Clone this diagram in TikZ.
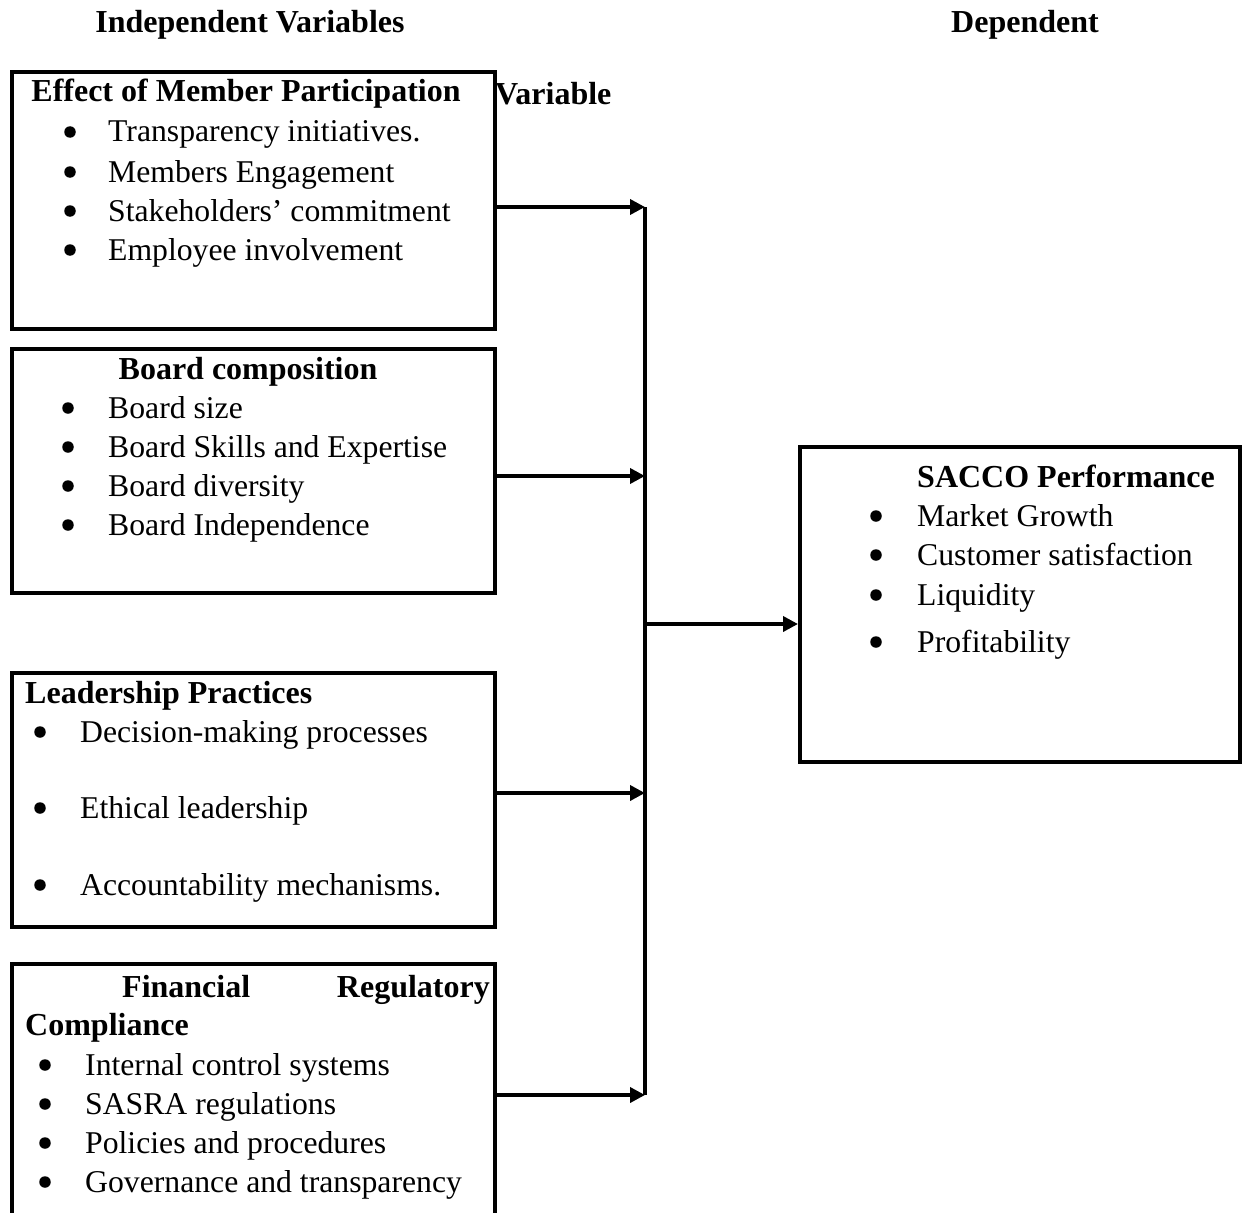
\documentclass[tikz,border=0pt]{standalone}
\usepackage{fontspec}
\setmainfont{Liberation Serif}
\usetikzlibrary{arrows.meta}
\begin{document}
\begin{tikzpicture}[x=1pt,y=-1pt,
  box/.style={draw,line width=3.6pt,anchor=north west,inner sep=0pt},
  txt/.style={anchor=base west,inner sep=0pt,font=\fontsize{31.7}{39}\selectfont},
  hd/.style={anchor=base west,inner sep=0pt,font=\fontsize{32}{39}\selectfont\bfseries},
  hdc/.style={hd,anchor=base},
  bul/.style={circle,fill,inner sep=0pt,minimum size=11.5pt},
  conn/.style={line width=3.6pt},
  arr/.style={conn,-{Triangle[length=15pt,width=15pt]}}]
\useasboundingbox (0,0) rectangle (1244,1212);
\clip (0,0) rectangle (1244,1212);
\fill[white] (0,0) rectangle (1244,1212);

% headings
\node[hdc] (hind) at (250,33) {Independent Variables};
\node[hdc] (hdep) at (1025,33) {Dependent};
\node[hd] (hvar) at (495,105) {Variable};

% boxes
\node[box,minimum width=483pt,minimum height=257pt] (b1) at (10,70) {};
\node[box,minimum width=483pt,minimum height=244pt] (b2) at (10,347) {};
\node[box,minimum width=483pt,minimum height=254pt] (b3) at (10,671) {};
\node[box,minimum width=483pt,minimum height=300pt] (b4) at (10,962) {};
\node[box,minimum width=440pt,minimum height=315pt] (perf) at (798,445) {};

% box 1
\node[hdc] (t1) at (246,102) {Effect of Member Participation};
\node[bul] (d11) at (70,132) {};
\node[txt] (i11) at (108,142) {Transparency initiatives.};
\node[bul] (d12) at (70,172) {};
\node[txt] (i12) at (108,182) {Members Engagement};
\node[bul] (d13) at (70,211) {};
\node[txt] (i13) at (108,221) {Stakeholders’ commitment};
\node[bul] (d14) at (70,250) {};
\node[txt] (i14) at (108,260) {Employee involvement};

% box 2
\node[hdc] (t2) at (248,379) {Board composition};
\node[bul] (d21) at (68,408) {};
\node[txt] (i21) at (108,418) {Board size};
\node[bul] (d22) at (68,447) {};
\node[txt] (i22) at (108,457) {Board Skills and Expertise};
\node[bul] (d23) at (68,486) {};
\node[txt] (i23) at (108,496) {Board diversity};
\node[bul] (d24) at (68,525) {};
\node[txt] (i24) at (108,535) {Board Independence};

% box 3
\node[hd] (t3) at (25,703) {Leadership Practices};
\node[bul] (d31) at (40,732) {};
\node[txt] (i31) at (80,742) {Decision-making processes};
\node[bul] (d32) at (40,808) {};
\node[txt] (i32) at (80,818) {Ethical leadership};
\node[bul] (d33) at (40,885) {};
\node[txt] (i33) at (80,895) {Accountability mechanisms.};

% box 4
\node[hd] (t4a) at (122,997) {Financial};
\node[hd,anchor=base east] (t4b) at (490,997) {Regulatory};
\node[hd] (t4c) at (25,1035) {Compliance};
\node[bul] (d41) at (45,1065) {};
\node[txt] (i41) at (85,1075) {Internal control systems};
\node[bul] (d42) at (45,1104) {};
\node[txt] (i42) at (85,1114) {SASRA regulations};
\node[bul] (d43) at (45,1143) {};
\node[txt] (i43) at (85,1153) {Policies and procedures};
\node[bul] (d44) at (45,1182) {};
\node[txt] (i44) at (85,1192) {Governance and transparency};

% performance box
\node[hd] (t5) at (917,487) {SACCO Performance};
\node[bul] (d51) at (876,516) {};
\node[txt] (i51) at (917,526) {Market Growth};
\node[bul] (d52) at (876,555) {};
\node[txt] (i52) at (917,565) {Customer satisfaction};
\node[bul] (d53) at (876,595) {};
\node[txt] (i53) at (917,605) {Liquidity};
\node[bul] (d54) at (876,642) {};
\node[txt] (i54) at (917,652) {Profitability};

% connectors
\coordinate (j1) at (645,207);
\coordinate (j2) at (645,476);
\coordinate (j3) at (645,793);
\coordinate (j4) at (645,1095);
\coordinate (jm) at (645,624);
\draw[arr] (b1.east |- j1) -- (j1);
\draw[arr] (b2.east |- j2) -- (j2);
\draw[arr] (b3.east |- j3) -- (j3);
\draw[arr] (b4.east |- j4) -- (j4);
\draw[conn] (j1) -- (j4);
\draw[arr] (jm) -- (perf.west |- jm);
\end{tikzpicture}
\end{document}
